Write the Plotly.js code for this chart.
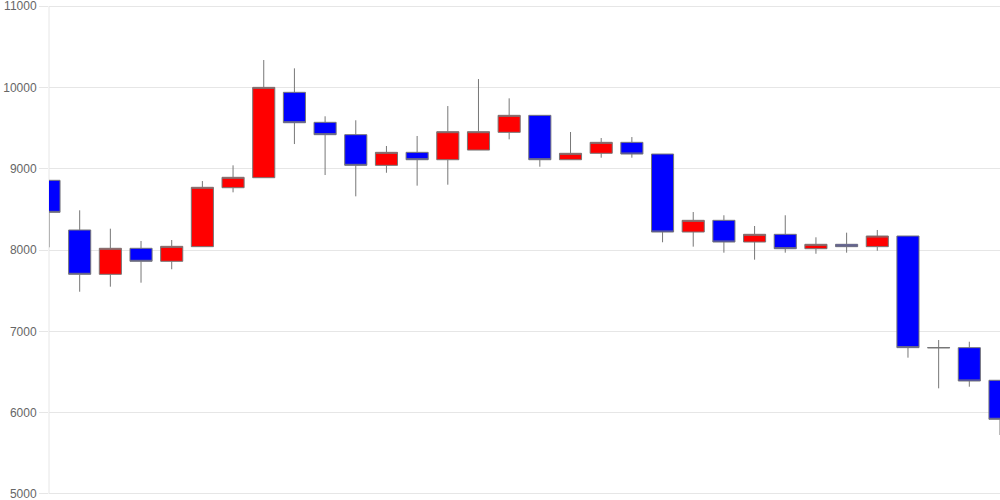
<!DOCTYPE html>
<html>
<head>
<meta charset="utf-8">
<script src="https://cdn.plot.ly/plotly-3.0.1.min.js"></script>
<style>html,body{margin:0;padding:0;background:#fff;}#chart{width:1000px;height:500px;}</style>
</head>
<body>
<div id="chart"></div>
<script>
const days  = [0,1,2,3,4,5,6,7,8,9,10,11,12,13,14,15,16,17,18,19,20,21,22,23,24,25,26,27,28,29,30,31];
const open  = [8857,8246,7701,8021,7861,8041,8766,8889,9939,9570,9418,9041,9201,9110,9229,9447,9656,9110,9189,9324,9180,8221,8365,8098,8193,8016,8070,8041,8172,6800,6799,6398];
const high  = [8857,8488,8262,8111,8123,8848,9041,10336,10234,9644,9595,9279,9402,9770,10102,9865,9656,9451,9377,9389,9180,8467,8427,8295,8427,8156,8213,8246,8172,6893,6872,6398];
const low   = [8033,7487,7549,7598,7763,8041,8709,8889,9303,8922,8660,8950,8791,8803,9229,9361,9024,9110,9135,9135,8095,8041,7967,7881,7967,7954,7967,7991,6676,6299,6319,5725];
const close = [8463,7701,8021,7861,8045,8771,8894,10000,9565,9418,9041,9201,9110,9455,9455,9656,9110,9189,9324,9180,8221,8365,8098,8193,8016,8070,8041,8172,6799,6798,6389,5918];
const yTicks = [5000,6000,7000,8000,9000,10000,11000];

const trace = {
  type: 'candlestick',
  x: days, open: open, high: high, low: low, close: close,
  increasing: {line: {color: '#777777', width: 1}, fillcolor: '#ff0000'},
  decreasing: {line: {color: '#777777', width: 1}, fillcolor: '#0000ff'},
  whiskerwidth: 0,
  hoverinfo: 'none',
  showlegend: false
};

const layout = {
  width: 1000, height: 500,
  margin: {l: 49, r: 0, t: 4, b: 4, pad: 0},
  paper_bgcolor: '#ffffff', plot_bgcolor: '#ffffff',
  showlegend: false,
  boxgap: 0.28,
  boxgroupgap: 0,
  xaxis: {
    range: [0, 31], showticklabels: false, showgrid: false, zeroline: false,
    showline: false, ticks: '', rangeslider: {visible: false}, fixedrange: true
  },
  yaxis: {
    range: [4975, 11025], tickvals: yTicks, ticktext: yTicks.map(String),
    showgrid: true, gridcolor: '#e6e6e6', gridwidth: 1, zeroline: false,
    showline: false,
    ticks: 'outside', ticklen: 9, tickcolor: '#e6e6e6', tickwidth: 1,
    ticklabeloverflow: 'allow',
    tickfont: {family: 'Liberation Sans, Arial, sans-serif', size: 12, color: '#666666'},
    fixedrange: true
  },
  shapes: [{type: 'line', xref: 'paper', yref: 'y', x0: 0, x1: 0, y0: 5000, y1: 11000,
            line: {color: '#e6e6e6', width: 1}, layer: 'below'}]
};

Plotly.newPlot('chart', [trace], layout, {displayModeBar: false, staticPlot: true});
</script>
</body>
</html>
